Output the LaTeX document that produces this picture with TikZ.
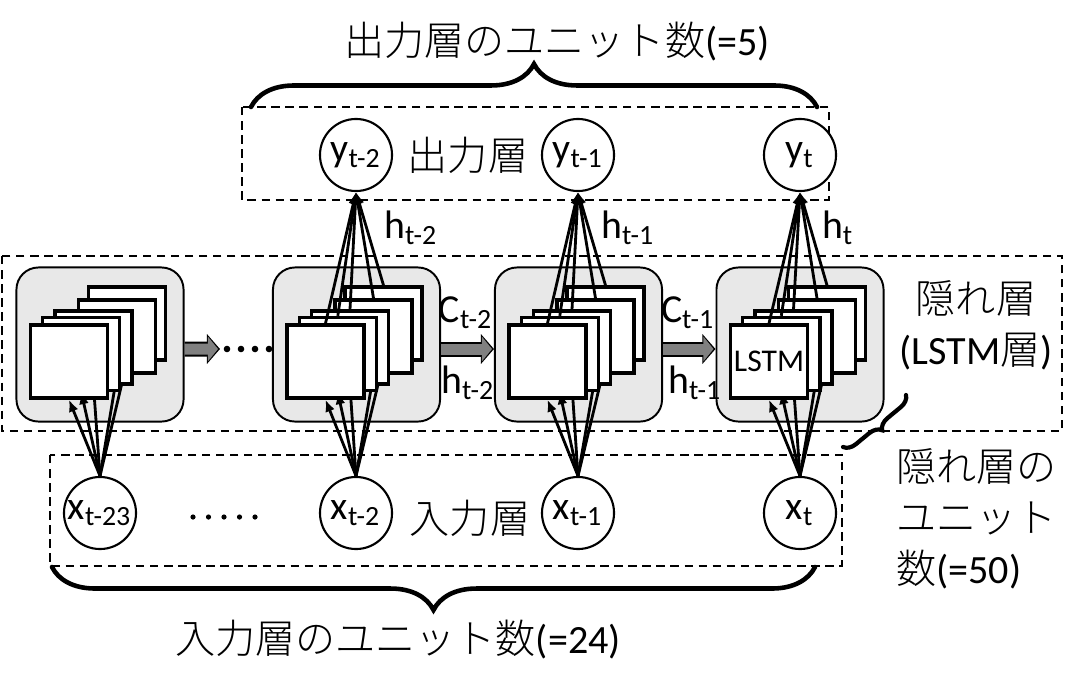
\documentclass[tikz,border=0pt]{standalone}
\usepackage{fontspec}
\setmainfont{Carlito}
\IfFontExistsTF{Noto Sans CJK JP Light}
  {\newfontfamily\jpfont{Noto Sans CJK JP Light}}
  {\newfontfamily\jpfont{Noto Sans CJK JP}}
\usetikzlibrary{arrows.meta,decorations.pathreplacing,positioning}

\begin{document}
\begin{tikzpicture}[
      x=0.01cm, y=-0.01cm,
      every node/.style={
        font=\fontsize{11.4}{14.5}\selectfont
      },
      lab/.style={
        font=\fontsize{11.3}{13}\selectfont
      },
      unit/.style={
        circle,
        draw,
        fill=white,
        minimum size=7.2mm,
        inner sep=0pt,
        line width=0.6pt
      },
      blk/.style={
        draw,
        fill=black!9,
        rounded corners=2.2mm,
        minimum width=16.7mm,
        minimum height=15.4mm,
        line width=0.55pt
      },
      cell/.style={
        draw,
        fill=white,
        minimum width=7.7mm,
        minimum height=7.3mm,
        inner sep=0pt,
        line width=0.95pt
      },
      link/.style={
        line width=0.8pt,
        -{Latex[length=3.4pt,width=2.8pt]}
      },
      garrow/.style={
        draw=black!50,
        line width=0.11cm,
        -{Triangle[length=0.10cm,width=0.24cm]},
        shorten >=0.02cm,
        preaction={
          draw=black,
          line width=0.15cm,
          -{Triangle[length=0.13cm,width=0.29cm]},
          shorten >=0cm
        }
      },
      layer/.style={
        draw,
        line width=0.55pt,
        dash pattern=on 2.4pt off 1.6pt
      },
      brc/.style={
        decorate,
        decoration={brace,amplitude=4.3mm,aspect=0.5},
        line width=1.3pt,
        line cap=round
      }
    ]
      \useasboundingbox (0,0) rectangle (1092,691);

      % layers
      \draw[layer] (242,107) rectangle (829,200);
      \draw[layer] (2,256) rectangle (1062,431);
      \draw[layer] (50,455) rectangle (842,566);

      % braces
      \draw[brc] (251,107) -- (817,107);
      \draw[brc] (815,567) -- (52,567);
      \draw[brc, decoration={brace,amplitude=1.2mm,aspect=0.5}, line width=1.2pt]
        (906,395) -- (843,447);

      % input and output units
      \node[unit, label={[lab]center:{x\textsubscript{t-23}}}] (x1) at (100,513) {};
      \node[unit, label={[lab]center:{x\textsubscript{t-2}}}] (x2) at (356,513) {};
      \node[unit, label={[lab]center:{x\textsubscript{t-1}}}] (x3) at (578,513) {};
      \node[unit, label={[lab]center:{x\textsubscript{t}}}] (x4) at (800,513) {};

      \node[unit, label={[lab]center:{y\textsubscript{t-2}}}] (y2) at (356,155) {};
      \node[unit, label={[lab]center:{y\textsubscript{t-1}}}] (y3) at (578,155) {};
      \node[unit, label={[lab]center:{y\textsubscript{t}}}] (y4) at (800,155) {};

      % LSTM blocks
      \foreach \j/\cx in {1/100,2/356.5,3/578.5,4/800}{
        \node[blk] (blk\j) at (\cx,344.5) {};
        \foreach \k/\dx/\dy in {4/58/38,3/48/25,2/24.5/14,1/12.3/7.5,0/0/0}{
          \node[cell] (c\j\k) at (\cx-31+\dx,361.5-\dy) {};
          \draw[link] (x\j.north) -- (c\j\k.south);
          \ifnum\j>1
            \draw[link] (c\j\k.north) -- (y\j.south);
          \fi
        }
      }
      \node[font=\fontsize{9}{10}\selectfont] (lstm) at (c40) {LSTM};

      \coordinate (dotsL) at (220,349);
      \draw[garrow] ([yshift=-0.045cm]blk1.east) -- (dotsL);
      \draw[garrow] ([yshift=-0.045cm]blk2.east) -- ([yshift=-0.045cm]blk3.west);
      \draw[garrow] ([yshift=-0.045cm]blk3.east) -- ([yshift=-0.045cm]blk4.west);

      \foreach \i in {0,...,3}
        \fill (227+\i*14,349) circle (0.033cm);
      \foreach \i in {0,...,4}
        \fill (193+\i*15.5,517) circle (0.026cm);

      % labels
      \node[lab] (hy2) at (411,228) {h\textsubscript{t-2}};
      \node[lab] (hy3) at (628,228) {h\textsubscript{t-1}};
      \node[lab] (hy4) at (838,228) {h\textsubscript{t}};
      \node[lab] (ct2) at (466,313) {C\textsubscript{t-2}};
      \node[lab] (ct1) at (688,313) {C\textsubscript{t-1}};
      \node[lab] (hc2) at (468,383) {h\textsubscript{t-2}};
      \node[lab] (hc1) at (695,383) {h\textsubscript{t-1}};

      \node (outL) at (468,155) {\jpfont 出力層};
      \node (inL) at (470,518) {\jpfont 入力層};
      \node (outN) at (557,42) {{\jpfont 出力層のユニット数}(=5)};
      \node (inN) at (398,640) {{\jpfont 入力層のユニット数}(=24)};
      \node[align=center] (hidL) at (976,325)
        {{\jpfont 隠れ層}\\({LSTM}{\jpfont 層})};
      \node[align=left, anchor=west] (hidN) at (884,519)
        {{\jpfont 隠れ層の}\\{\jpfont ユニット}\\{\jpfont 数}(=50)};
    \end{tikzpicture}
\end{document}
